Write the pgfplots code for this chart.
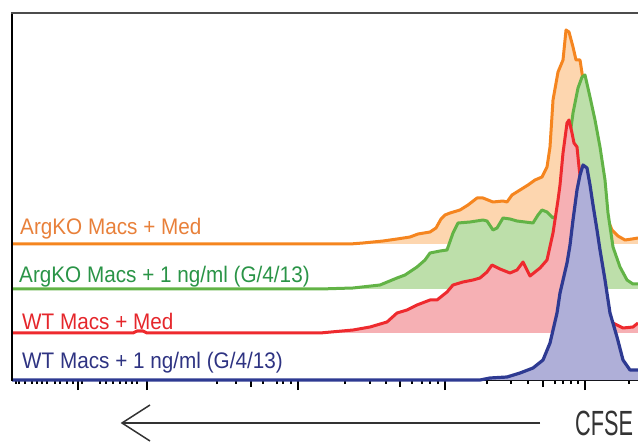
\documentclass[border=0pt]{standalone}
\usepackage{pgfplots}
\pgfplotsset{compat=1.18}
\usepackage{pgfplotstable}
\usepackage{fontspec}
\setmainfont{Liberation Sans}
\newfontfamily\labfont[FakeStretch=0.92]{Liberation Sans}
\newfontfamily\cfsefont[FakeStretch=0.62]{Liberation Sans}
\definecolor{oLine}{HTML}{F5851F}
\definecolor{oFill}{HTML}{FDD6AF}
\definecolor{oText}{HTML}{E8803A}
\definecolor{gLine}{HTML}{62B346}
\definecolor{gFill}{HTML}{BDDFAA}
\definecolor{gText}{HTML}{2A9447}
\definecolor{rLine}{HTML}{EE2A2E}
\definecolor{rFill}{HTML}{F6B0B4}
\definecolor{rText}{HTML}{E5262B}
\definecolor{bLine}{HTML}{2E3A92}
\definecolor{bFill}{HTML}{AFAFD8}
\definecolor{bText}{HTML}{2E3382}
\definecolor{axisGrey}{HTML}{333333}

% x = CFSE position (px), y = height (px from top)
\pgfplotstableread{
x y
12 244
330 244
350 244
363 243
383 241
397 239
410 237
418 234
430 232
436 228
441 219
445 215
450 213
460 210
468 205
477 198
483 198
493 202
503 201
507 202
512 195
520 190
528 185
535 180
542 177
547 167
550 147
553 100
558 72
563 60
566 30
569 32
573 47
576 60
580 60
582 73
588 110
595 160
602 200
607 218
612 230
618 236
625 240
632 239
638 238
}\orangedata

\pgfplotstableread{
x y
12 289
320 289
353 288
380 285
397 278
405 275
417 267
425 260
430 253
440 251
447 250
453 233
458 223
470 222
483 220
487 221
493 230
497 228
503 218
510 219
517 221
525 222
533 223
538 215
542 210
547 212
553 218
557 215
563 185
568 150
573 113
578 88
582 77
585 75
590 97
595 120
600 147
605 180
608 213
613 247
620 267
627 280
633 284
638 284
}\greendata

\pgfplotstableread{
x y
12 333
133 333
137 331
143 331
147 333
320 333
353 330
370 327
387 322
397 313
407 310
417 305
430 300
437 300
447 292
453 285
463 282
473 280
480 278
487 272
492 265
500 269
510 273
517 270
523 262
530 276
540 268
547 260
553 233
558 200
560 185
563 153
567 123
569 120
572 133
574 143
577 147
579 167
583 200
588 260
595 300
603 318
613 323
623 328
633 327
638 323
}\reddata

\pgfplotstableread{
x y
12 380
480 380
490 378
507 377
520 373
533 368
543 360
550 343
557 313
560 293
567 263
570 245
573 220
577 190
580 175
583 165
587 168
590 185
593 205
597 230
600 250
605 280
610 313
617 337
623 360
630 370
638 370
}\bluedata

\begin{document}
\begin{tikzpicture}
\begin{axis}[
  scale only axis,
  width=626bp, height=367bp,
  xmin=12, xmax=638, ymin=62, ymax=429,
  axis line style={draw=none},
  clip=false,
  no markers,
  ytick=\empty,
  xtick pos=bottom,
  tick align=outside,
  xtick={78,147,298,445,585},
  minor xtick={16,19,25,32,37,42,47,55,60,67,73,82,100,106,113,120,126,132,137,217,236,263,277,283,291,345,370,386,412,422,430,438,487,511,528,555,563,571,578,629},
  extra x ticks={251,400,543},
  extra x tick labels={},
  extra x tick style={major tick length=7bp},
  xticklabels={},
  major tick length=10bp,
  minor tick length=4bp,
  tick style={black, line width=1.6bp},
]
\coordinate (bbll) at (axis cs:0,0);
\coordinate (bbur) at (axis cs:638,442);

% orange
\addplot[draw=none, fill=oFill] table[x=x, y expr=442-\thisrow{y}] {\orangedata} -- (axis cs:638,198) -- cycle;
\addplot[oLine, line width=3bp, line join=round] table[x=x, y expr=442-\thisrow{y}] {\orangedata};
% green
\addplot[draw=none, fill=gFill] table[x=x, y expr=442-\thisrow{y}] {\greendata} -- (axis cs:638,153) -- cycle;
\addplot[gLine, line width=3bp, line join=round] table[x=x, y expr=442-\thisrow{y}] {\greendata};
% red
\addplot[draw=none, fill=rFill] table[x=x, y expr=442-\thisrow{y}] {\reddata} -- (axis cs:638,109) -- cycle;
\addplot[rLine, line width=3bp, line join=round] table[x=x, y expr=442-\thisrow{y}] {\reddata};
% bottom axis line
\draw[black, line width=1.6bp] (axis cs:12,62) -- (axis cs:638,62);
% blue
\addplot[draw=none, fill=bFill] table[x=x, y expr=442-\thisrow{y}] {\bluedata} -- (axis cs:638,62) -- cycle;
\addplot[bLine, line width=3.2bp, line join=round] table[x=x, y expr=442-\thisrow{y}] {\bluedata};

% frame: left and top
\draw[black, line width=2.6bp] (axis cs:12,61) -- (axis cs:12,429.5);
\draw[black!70, line width=2.2bp] (axis cs:11,429) -- (axis cs:638,429);

% labels
\node[anchor=base west, inner sep=0pt, text=oText] at (axis cs:20,207) {\labfont\fontsize{22.5bp}{26bp}\selectfont ArgKO Macs + Med};
\node[anchor=base west, inner sep=0pt, text=gText] at (axis cs:19,159) {\labfont\fontsize{22.5bp}{26bp}\selectfont ArgKO Macs + 1 ng/ml (G/4/13)};
\node[anchor=base west, inner sep=0pt, text=rText] at (axis cs:22,112) {\labfont\fontsize{22.5bp}{26bp}\selectfont WT Macs + Med};
\node[anchor=base west, inner sep=0pt, text=bText] at (axis cs:22,74) {\labfont\fontsize{22.5bp}{26bp}\selectfont WT Macs + 1 ng/ml (G/4/13)};

% CFSE arrow
\draw[axisGrey, line width=1.5bp] (axis cs:540,19) -- (axis cs:123,19);
\draw[axisGrey, line width=1.5bp, line join=miter] (axis cs:150,37) -- (axis cs:122,19) -- (axis cs:150,1);
\node[anchor=base west, inner sep=0pt, text=axisGrey] at (axis cs:575,7) {\cfsefont\fontsize{35bp}{40bp}\selectfont CFSE};
\end{axis}
\pgfresetboundingbox
\path (bbll) rectangle (bbur);
\end{tikzpicture}
\end{document}
